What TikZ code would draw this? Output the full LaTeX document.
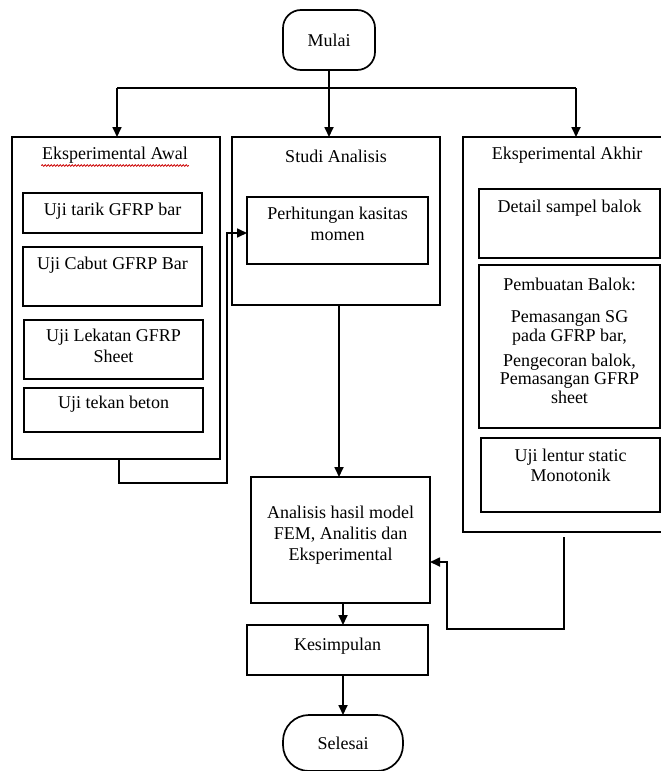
\documentclass[tikz,border=0pt]{standalone}
\usepackage{fontspec}
\setmainfont{Liberation Serif}
\usetikzlibrary{arrows.meta,decorations.pathmorphing,calc}
\newcommand\mybox[6]{\node[box, minimum width={(#4)-(#2)}, minimum height={(#5)-(#3)}, #6] (#1) at ({((#2)+(#4))/2},{((#3)+(#5))/2}) {};}
\begin{document}
\begin{tikzpicture}[x=1pt,y=-1pt, line width=1.7pt,
  box/.style={draw, rectangle, inner sep=0pt, outer sep=0pt},
  lbl/.style={inner sep=0pt, font=\fontsize{18}{21}\selectfont, align=center},
  arr/.style={-{Triangle[length=10pt,width=9pt]}}]
\useasboundingbox (0,0) rectangle (661,771);
\clip (0,0) rectangle (661,771);
\fill[white] (0,0) rectangle (661,771);

% terminals
\node[box, rounded corners=18pt, minimum width=92, minimum height=60, lbl] (mulai) at (329,40) {Mulai};
\node[box, rounded corners=26pt, minimum width=120, minimum height=56, lbl] (selesai) at (343,743) {Selesai};

% left group
\mybox{lbox}{12}{137}{220}{459}{}
\node[lbl] (tl) at (115,155) {Eksperimental Awal};
\draw[red!80!black, line width=0.8pt, decorate, decoration={snake, amplitude=0.8pt, segment length=3pt}] ($(tl.south west)+(0,1.5)$) -- ($(tl.south east)+(0,1.5)$);
\mybox{l1}{23}{193}{202}{233}{}
\node[lbl] (tl1) at (112.5,211) {Uji tarik GFRP bar};
\mybox{l2}{23}{247}{202}{306}{}
\node[lbl] (tl2) at (112.5,265) {Uji Cabut GFRP Bar};
\mybox{l3}{24}{320}{203}{379}{}
\node[lbl] (tl3) at (113.5,346) {Uji Lekatan GFRP\\Sheet};
\mybox{l4}{24}{388}{203}{432}{}
\node[lbl] (tl4) at (113.5,404) {Uji tekan beton};

% middle group
\mybox{studi}{232}{137}{440}{305}{}
\node[lbl] (ts) at (336,156) {Studi Analisis};
\mybox{perh}{247}{197}{428}{264}{}
\node[lbl] (tp) at (337.5,224) {Perhitungan kasitas\\momen};

\mybox{anal}{251}{477}{430}{603}{}
\node[lbl] (ta) at (340.5,535) {Analisis hasil model\\FEM, Analitis dan\\Eksperimental};
\mybox{kes}{247}{625}{428}{675}{}
\node[lbl] (tk) at (337.5,646) {Kesimpulan};

% right group
\mybox{rbox}{463}{137}{665}{532}{}
\node[lbl] (tr) at (567,155) {Eksperimental Akhir};
\mybox{r1}{479}{189}{660}{258}{}
\node[lbl] (tr1) at (569.5,208) {Detail sampel balok};
\mybox{r2}{479}{265}{660}{428}{}
\node[lbl] (tr2a) at (569.5,284) {Pembuatan Balok:};
\node[lbl, font=\fontsize{18}{19}\selectfont] (tr2b) at (569.5,327.5) {Pemasangan SG\\pada GFRP bar,};
\node[lbl, font=\fontsize{18}{18.5}\selectfont] (tr2c) at (569.5,378.5) {Pengecoran balok,\\Pemasangan GFRP\\sheet};
\mybox{r3}{481}{438}{660}{512}{}
\node[lbl, font=\fontsize{18}{20}\selectfont] (tr3) at (570.5,465) {Uji lentur static\\Monotonik};

% connectors
\coordinate (hl) at (117,88);
\coordinate (hr) at (576,88);
\draw (hl) -- (hr);
\draw[arr] (mulai.south) -- (mulai.south |- studi.north);
\draw[arr] (hl) -- (hl |- lbox.north);
\draw[arr] (hr) -- (hr |- rbox.north);

\coordinate (lb) at ($(lbox.south)+(3,0)$);
\coordinate (lc) at (227,483);
\coordinate (ld) at (227,233);
\draw[arr] (lb) |- (lc) -- (ld) -- (ld -| perh.west);

\coordinate (sa) at (339,0);
\draw[arr] (studi.south -| sa) -- (anal.north -| sa);

\draw[arr] (anal.south -| selesai.north) -- (kes.north -| selesai.north);
\draw[arr] (kes.south -| selesai.north) -- (selesai.north);

\coordinate (rb) at ($(rbox.south)+(0,5)$);
\coordinate (rc) at (447,629);
\coordinate (rd) at (447,562);
\draw[arr] (rb) |- (rc) -- (rd) -- (rd -| anal.east);
\end{tikzpicture}
\end{document}
